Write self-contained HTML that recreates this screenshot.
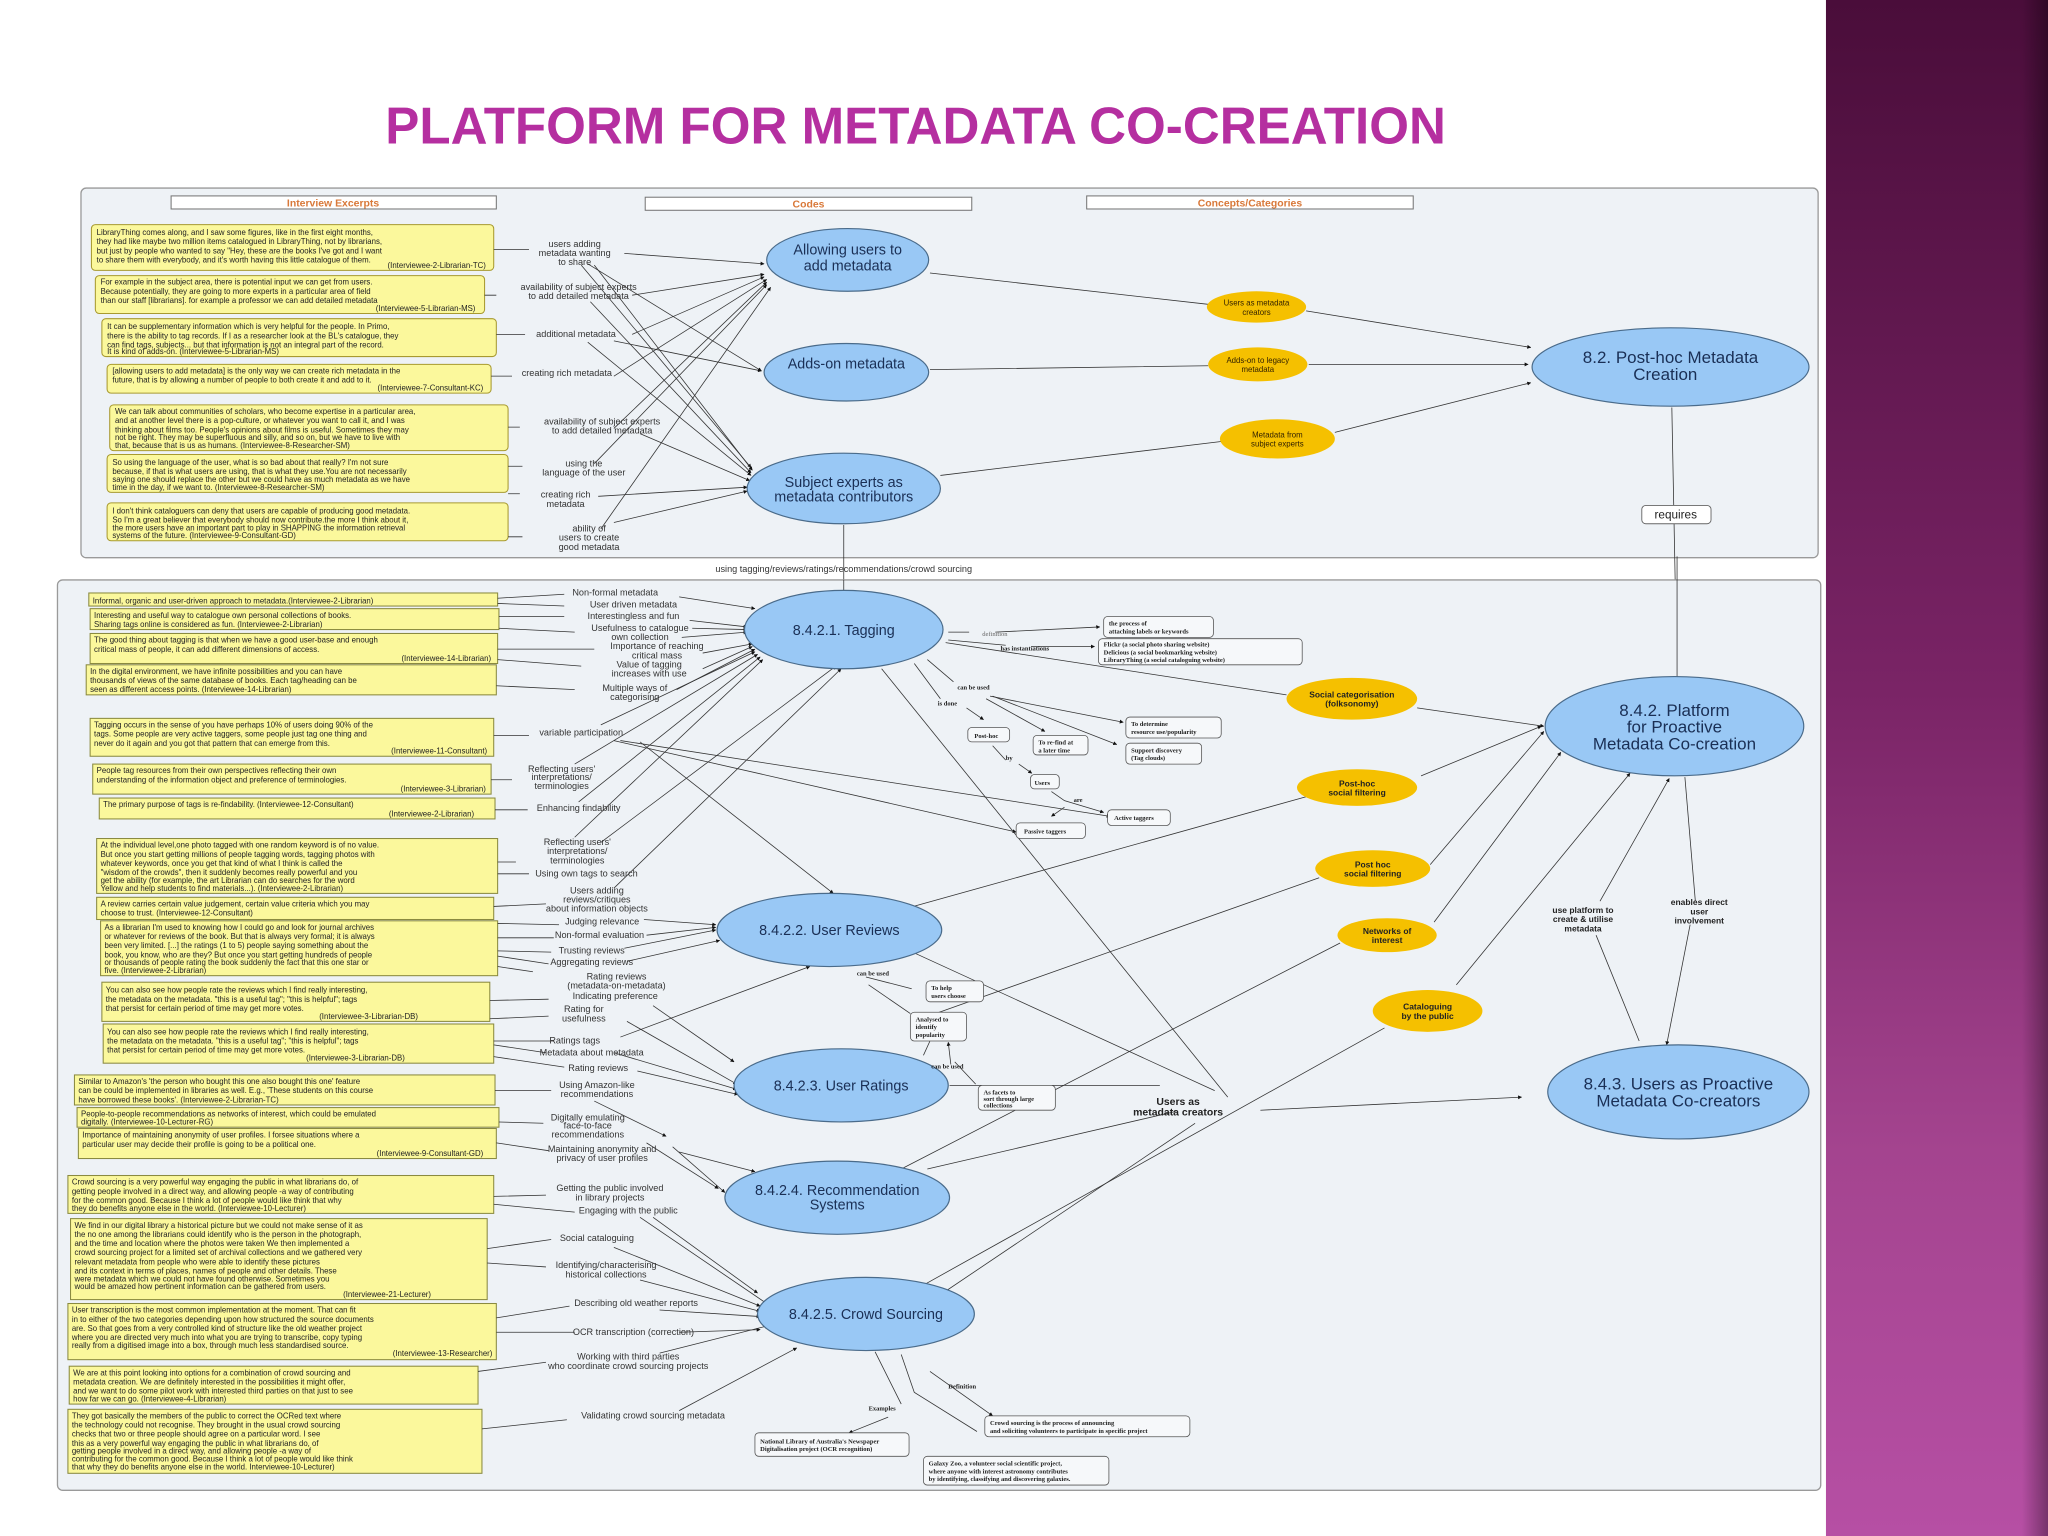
<!DOCTYPE html>
<html><head><meta charset="utf-8"><style>html,body{margin:0;padding:0;background:#fff}svg{display:block}</style></head>
<body>
<svg width="2048" height="1536" viewBox="0 0 1568 1176" xmlns="http://www.w3.org/2000/svg" font-family="Liberation Sans, sans-serif">
<defs>
<linearGradient id="pg" x1="0" y1="0" x2="0" y2="1"><stop offset="0" stop-color="#4a0d3a"/><stop offset="0.45" stop-color="#7a2466"/><stop offset="0.75" stop-color="#a4448f"/><stop offset="1" stop-color="#b64fa4"/></linearGradient>
<linearGradient id="pe" x1="0" y1="0" x2="1" y2="0"><stop offset="0" stop-color="#000" stop-opacity="0"/><stop offset="1" stop-color="#000" stop-opacity="0.35"/></linearGradient>
<marker id="a" viewBox="0 0 10 10" refX="9" refY="5" markerWidth="5" markerHeight="5" orient="auto"><path d="M0,0L10,5L0,10z" fill="#111"/></marker>
</defs>
<rect width="1568" height="1176" fill="#fff"/>
<rect x="1398" y="0" width="170" height="1176" fill="url(#pg)"/>
<rect x="1548" y="0" width="20" height="1176" fill="url(#pe)"/>
<text x="701" y="110" text-anchor="middle" font-size="40" font-weight="bold" fill="#b52fa0" textLength="812" lengthAdjust="spacingAndGlyphs">PLATFORM FOR METADATA CO-CREATION</text>

<!-- top panel -->
<rect x="62" y="144" width="1330" height="283" rx="4" fill="#eef2f6" stroke="#9a9a9a" stroke-width="1"/>
<g fill="#fff" stroke="#777" stroke-width="0.8">
<rect x="131" y="150" width="249" height="10"/><rect x="494" y="151" width="250" height="10"/><rect x="832" y="150" width="250" height="10"/></g>
<g font-size="8" font-weight="bold" fill="#d9793a" text-anchor="middle">
<text x="255" y="158">Interview Excerpts</text><text x="619" y="159">Codes</text><text x="957" y="158">Concepts/Categories</text></g>

<g fill="#fbf89c" stroke="#a89a30" stroke-width="0.8">
<rect x="70" y="172" width="308" height="35" rx="3"/>
<rect x="73" y="211" width="298" height="29" rx="3"/>
<rect x="78" y="244" width="302" height="29" rx="3"/>
<rect x="82" y="279" width="294" height="22" rx="3"/>
<rect x="84" y="310" width="305" height="35" rx="3"/>
<rect x="82" y="348" width="307" height="29" rx="3"/>
<rect x="82" y="385" width="307" height="29" rx="3"/>
</g>
<g font-size="6" fill="#222">
<text x="74" y="180">LibraryThing comes along, and I saw some figures, like in the first eight months,</text>
<text x="74" y="187">they had like maybe two million items catalogued in LibraryThing, not by librarians,</text>
<text x="74" y="194">but just by people who wanted to say "Hey, these are the books I've got and I want</text>
<text x="74" y="201">to share them with everybody, and it's worth having this little catalogue of them.</text>
<text x="372" y="205" text-anchor="end">(Interviewee-2-Librarian-TC)</text>
<text x="77" y="218">For example in the subject area, there is potential input we can get from users.</text>
<text x="77" y="225">Because potentially, they are going to more experts in a particular area of field</text>
<text x="77" y="232">than our staff [librarians]. for example a professor we can add detailed metadata</text>
<text x="364" y="238" text-anchor="end">(Interviewee-5-Librarian-MS)</text>
<text x="82" y="252">It can be supplementary information which is very helpful for the people. In Primo,</text>
<text x="82" y="259">there is the ability to tag records. If I as a researcher look at the BL's catalogue, they</text>
<text x="82" y="266">can find tags, subjects... but that information is not an integral part of the record.</text>
<text x="82" y="271">It is kind of adds-on.        (Interviewee-5-Librarian-MS)</text>
<text x="86" y="286">[allowing users to add metadata] is the only way we can create rich metadata in the</text>
<text x="86" y="293">future, that is by allowing a number of people to both create it and add to it.</text>
<text x="370" y="299" text-anchor="end">(Interviewee-7-Consultant-KC)</text>
<text x="88" y="317">We can talk about communities of scholars, who become expertise in a particular area,</text>
<text x="88" y="324">and at another level there is a pop-culture, or whatever you want to call it, and I was</text>
<text x="88" y="331">thinking about films too. People's opinions about films is useful. Sometimes they may</text>
<text x="88" y="337">not be right. They may be superfluous and silly, and so on, but we have to live with</text>
<text x="88" y="343">that, because that is us as humans.            (Interviewee-8-Researcher-SM)</text>
<text x="86" y="356">So using the language of the user, what is so bad about that really? I'm not sure</text>
<text x="86" y="363">because, if that is what users are using, that is what they use.You are not necessarily</text>
<text x="86" y="369">saying one should replace the other but we could have as much metadata as we have</text>
<text x="86" y="375">time in the day, if we want to.              (Interviewee-8-Researcher-SM)</text>
<text x="86" y="393">I don't think cataloguers can deny that users are capable of producing good metadata.</text>
<text x="86" y="400">So I'm a great believer that everybody should now contribute.the more I think about it,</text>
<text x="86" y="406">the more users have an important part to play in SHAPPING the information retrieval</text>
<text x="86" y="412">systems of the future.            (Interviewee-9-Consultant-GD)</text>
</g>
<g font-size="7" fill="#333" text-anchor="middle">
<text x="440" y="189">users adding</text><text x="440" y="196">metadata wanting</text><text x="440" y="203">to share</text>
<text x="443" y="222">availability of subject experts</text><text x="443" y="229">to add detailed metadata</text>
<text x="441" y="258">additional metadata</text>
<text x="434" y="288">creating rich metadata</text>
<text x="461" y="325">availability of subject experts</text><text x="461" y="332">to add detailed metadata</text>
<text x="447" y="357">using the</text><text x="447" y="364">language of the user</text>
<text x="433" y="381">creating rich</text><text x="433" y="388">metadata</text>
<text x="451" y="407">ability of</text><text x="451" y="414">users to create</text><text x="451" y="421">good metadata</text>
</g>
<g stroke="#333" stroke-width="0.6" fill="none">
<path d="M378,191H405M371,226H380M380,256H402M376,288H392M389,327H398M389,357H400M389,378H398M389,411H400"/>
<path d="M478,194L585,202" marker-end="url(#a)"/>
<path d="M484,226L585,210" marker-end="url(#a)"/>
<path d="M484,256L585,212" marker-end="url(#a)"/>
<path d="M470,288L587,214" marker-end="url(#a)"/>
<path d="M470,328L587,216" marker-end="url(#a)"/>
<path d="M455,355L587,218" marker-end="url(#a)"/>
<path d="M460,405L590,220" marker-end="url(#a)"/>
<path d="M450,202L583,284" marker-end="url(#a)"/>
<path d="M470,261L583,284" marker-end="url(#a)"/>
<path d="M445,203L575,358" marker-end="url(#a)"/>
<path d="M455,203L576,360" marker-end="url(#a)"/>
<path d="M452,231L575,362" marker-end="url(#a)"/>
<path d="M450,262L575,364" marker-end="url(#a)"/>
<path d="M490,332L574,368" marker-end="url(#a)"/>
<path d="M458,380L572,373" marker-end="url(#a)"/>
<path d="M470,400L572,376" marker-end="url(#a)"/>
<path d="M712,209L925,233M1000,238L1172,266" marker-end="url(#a)"/>
<path d="M712,283L925,280M1002,279L1170,279" marker-end="url(#a)"/>
<path d="M720,364L935,338M1022,331L1172,293" marker-end="url(#a)"/>
<path d="M1280,312L1284,520M646,402V456"/>
</g>
<g fill="#99c8f5" stroke="#4a6b8a" stroke-width="0.9">
<ellipse cx="649" cy="199" rx="62" ry="24"/><ellipse cx="648" cy="285" rx="63" ry="22"/><ellipse cx="646" cy="374" rx="74" ry="27"/><ellipse cx="1279" cy="281" rx="106" ry="30"/>
</g>
<g fill="#f5c000"><ellipse cx="962" cy="235" rx="38" ry="12"/><ellipse cx="963" cy="279" rx="38" ry="13"/><ellipse cx="978" cy="336" rx="44" ry="15"/></g>
<g font-size="11" fill="#1a2f55" text-anchor="middle">
<text x="649" y="195">Allowing users to</text><text x="649" y="207">add metadata</text>
<text x="648" y="282">Adds-on metadata</text>
<text x="646" y="373">Subject experts as</text><text x="646" y="384">metadata contributors</text>
<text x="1279" y="278" font-size="13">8.2.    Post-hoc Metadata</text><text x="1275" y="291" font-size="13">Creation</text>
</g>
<g font-size="6" fill="#332200" text-anchor="middle">
<text x="962" y="234">Users as metadata</text><text x="962" y="241">creators</text>
<text x="963" y="278">Adds-on to legacy</text><text x="963" y="285">metadata</text>
<text x="978" y="335">Metadata from</text><text x="978" y="342">subject experts</text>
</g>
<rect x="1257" y="387" width="53" height="14" rx="3" fill="#fff" stroke="#666" stroke-width="0.7"/>
<text x="1283" y="397" font-size="9" fill="#222" text-anchor="middle">requires</text>
<text x="646" y="438" font-size="7" fill="#333" text-anchor="middle">using tagging/reviews/ratings/recommendations/crowd sourcing</text>

<!-- lower panel -->
<rect x="44" y="444" width="1350" height="697" rx="4" fill="#eef2f6" stroke="#9a9a9a" stroke-width="1"/>
<path d="M646,444V456M1284,426V520" stroke="#333" stroke-width="0.6"/>
<g fill="#fbf89c" stroke="#8a8a40" stroke-width="0.8">
<rect x="68" y="454" width="313" height="10"/>
<rect x="69" y="466" width="313" height="16"/>
<rect x="69" y="485" width="312" height="23"/>
<rect x="66" y="509" width="314" height="23"/>
<rect x="69" y="550" width="309" height="29"/>
<rect x="71" y="585" width="305" height="23"/>
<rect x="76" y="611" width="303" height="16"/>
<rect x="74" y="642" width="307" height="42"/>
<rect x="74" y="687" width="304" height="17"/>
<rect x="77" y="705" width="304" height="42"/>
<rect x="78" y="752" width="297" height="30"/>
<rect x="79" y="784" width="299" height="30"/>
<rect x="57" y="823" width="322" height="23"/>
<rect x="59" y="848" width="323" height="15"/>
<rect x="60" y="864" width="320" height="23"/>
<rect x="52" y="900" width="326" height="29"/>
<rect x="54" y="933" width="319" height="62"/>
<rect x="52" y="998" width="328" height="43"/>
<rect x="53" y="1046" width="313" height="29"/>
<rect x="52" y="1079" width="317" height="49"/>
</g>
<g font-size="6" fill="#222">
<text x="71" y="462">Informal, organic and user-driven approach to metadata.(Interviewee-2-Librarian)</text>
<text x="72" y="473">Interesting and useful way to catalogue own personal collections of books.</text>
<text x="72" y="480">Sharing tags online is considered as fun.               (Interviewee-2-Librarian)</text>
<text x="72" y="492">The good thing about tagging is that when we have a good user-base and enough</text>
<text x="72" y="499">critical mass of people, it can add different dimensions of access.</text>
<text x="376" y="506" text-anchor="end">(Interviewee-14-Librarian)</text>
<text x="69" y="516">In the digital environment, we have infinite possibilities and you can have</text>
<text x="69" y="523">thousands of views of the same database of books. Each tag/heading can be</text>
<text x="69" y="530"> seen as different access points. (Interviewee-14-Librarian)</text>
<text x="72" y="557">Tagging occurs in the sense of you have perhaps 10% of users doing 90% of the</text>
<text x="72" y="564">tags. Some people are very active taggers, some people just tag one thing and</text>
<text x="72" y="571">never do it again and you got that pattern that can emerge from this.</text>
<text x="373" y="577" text-anchor="end">(Interviewee-11-Consultant)</text>
<text x="74" y="592">People tag resources from their own perspectives reflecting their own</text>
<text x="74" y="599">understanding of the information object and preference of terminologies.</text>
<text x="372" y="606" text-anchor="end">(Interviewee-3-Librarian)</text>
<text x="79" y="618">The primary purpose of tags is re-findability.   (Interviewee-12-Consultant)</text>
<text x="363" y="625" text-anchor="end">(Interviewee-2-Librarian)</text>
<text x="77" y="649">At the individual level,one photo tagged with one random keyword is of no value.</text>
<text x="77" y="656">But once you start getting millions of people tagging words, tagging photos with</text>
<text x="77" y="663">whatever keywords, once you get that kind of what I think is called the</text>
<text x="77" y="670">"wisdom of the crowds", then it suddenly becomes really powerful and you</text>
<text x="77" y="676">get the ability (for example, the art Librarian can do searches for the word</text>
<text x="77" y="682">Yellow and help students to find materials...).          (Interviewee-2-Librarian)</text>
<text x="77" y="694">A review carries certain value judgement, certain value criteria which you may</text>
<text x="77" y="701">choose to trust.                           (Interviewee-12-Consultant)</text>
<text x="80" y="712">As a librarian I'm used to knowing how I could go and look for journal archives</text>
<text x="80" y="719">or whatever for reviews of the book. But that is always very formal; it is always</text>
<text x="80" y="726">been very limited. [...] the ratings (1 to 5) people saying something about the</text>
<text x="80" y="733">book, you know, who are they? But once you start getting hundreds of people</text>
<text x="80" y="739">or thousands of people rating the book suddenly the fact that this one star or</text>
<text x="80" y="745">five.                                      (Interviewee-2-Librarian)</text>
<text x="81" y="760">You can also see how people rate the reviews which I find really interesting,</text>
<text x="81" y="767">the metadata on the metadata. "this is a useful tag"; "this is helpful"; tags</text>
<text x="81" y="774">that persist for certain period of time may get more votes.</text>
<text x="320" y="780" text-anchor="end">(Interviewee-3-Librarian-DB)</text>
<text x="82" y="792">You can also see how people rate the reviews which I find really interesting,</text>
<text x="82" y="799">the metadata on the metadata. "this is a useful tag"; "this is helpful"; tags</text>
<text x="82" y="806">that persist for certain period of time may get more votes.</text>
<text x="310" y="812" text-anchor="end">(Interviewee-3-Librarian-DB)</text>
<text x="60" y="830">Similar to Amazon's 'the person who bought this one also bought this one' feature</text>
<text x="60" y="837">can be could be implemented in libraries as well. E.g., 'These students on this course</text>
<text x="60" y="844">have borrowed these books'.                   (Interviewee-2-Librarian-TC)</text>
<text x="62" y="855">People-to-people recommendations as networks of interest, which could be emulated</text>
<text x="62" y="861">digitally.                          (Interviewee-10-Lecturer-RG)</text>
<text x="63" y="871">Importance of maintaining anonymity of user profiles. I forsee  situations where a</text>
<text x="63" y="878">particular user may decide their profile is going to be a political one.</text>
<text x="370" y="885" text-anchor="end">(Interviewee-9-Consultant-GD)</text>
<text x="55" y="907">Crowd sourcing is a very powerful way engaging the public in what librarians do, of</text>
<text x="55" y="914">getting people involved in a direct way, and allowing people -a way of contributing</text>
<text x="55" y="921">for the common good.  Because I think a lot of people would like think that why</text>
<text x="55" y="927">they do benefits anyone else in the world.              (Interviewee-10-Lecturer)</text>
<text x="57" y="940">We find in our digital library a historical picture but we could not make sense of it as</text>
<text x="57" y="947">the no one among the librarians could identify who is the person in the photograph,</text>
<text x="57" y="954">and the time and location where the photos were taken We then implemented a</text>
<text x="57" y="961">crowd sourcing project for a limited set of archival collections and we gathered very</text>
<text x="57" y="968">relevant metadata from people who were able to identify these pictures</text>
<text x="57" y="975">and its context in terms of places, names of people and other details. These</text>
<text x="57" y="981">were metadata which we could not have found otherwise.  Sometimes you</text>
<text x="57" y="987">would be amazed how pertinent information can be gathered from users.</text>
<text x="330" y="993" text-anchor="end">(Interviewee-21-Lecturer)</text>
<text x="55" y="1005">User transcription is the most common implementation at the moment. That can fit</text>
<text x="55" y="1012">in to either of the two categories depending upon how structured the source documents</text>
<text x="55" y="1019">are. So that goes from a very controlled kind of structure like the old weather project</text>
<text x="55" y="1026">where you are directed very much into what you are trying to transcribe, copy typing</text>
<text x="55" y="1032">really from a digitised image into a box, through much less standardised source.</text>
<text x="377" y="1038" text-anchor="end">(Interviewee-13-Researcher)</text>
<text x="56" y="1053">We are at this point looking into options for a combination of crowd sourcing and</text>
<text x="56" y="1060">metadata creation. We are definitely interested in the possibilities it might offer,</text>
<text x="56" y="1067">and we want to do some pilot work with interested third parties on that just to see</text>
<text x="56" y="1073"> how far we can go.               (Interviewee-4-Librarian)</text>
<text x="55" y="1086">They got basically the members of the public to correct the OCRed text where</text>
<text x="55" y="1093">the technology could not recognise. They brought in the usual crowd sourcing</text>
<text x="55" y="1100">checks that two or three people should agree on a particular word. I see</text>
<text x="55" y="1107"> this as a very powerful way engaging the public in what librarians do, of</text>
<text x="55" y="1113">getting people involved in a direct way, and allowing people -a way of</text>
<text x="55" y="1119">contributing for the common good.  Because I think a lot of people would like think</text>
<text x="55" y="1125">that why they do benefits anyone else in the world. Interviewee-10-Lecturer)</text>
</g>
<g font-size="7" fill="#333" text-anchor="middle">
<text x="471" y="456">Non-formal metadata</text>
<text x="485" y="465">User driven metadata</text>
<text x="485" y="474">Interestingless and fun</text>
<text x="490" y="483">Usefulness to catalogue</text><text x="490" y="490">own collection</text>
<text x="503" y="497">Importance of reaching</text><text x="503" y="504">critical mass</text>
<text x="497" y="511">Value of tagging</text><text x="497" y="518">increases with use</text>
<text x="486" y="529">Multiple ways of</text><text x="486" y="536">categorising</text>
<text x="445" y="563">variable participation</text>
<text x="430" y="591">Reflecting users'</text><text x="430" y="597">interpretations/</text><text x="430" y="604">terminologies</text>
<text x="443" y="621">Enhancing findability</text>
<text x="442" y="647">Reflecting users'</text><text x="442" y="654">interpretations/</text><text x="442" y="661">terminologies</text>
<text x="449" y="671">Using own tags to search</text>
<text x="457" y="684">Users adding</text><text x="457" y="691">reviews/critiques</text><text x="457" y="698">about information objects</text>
<text x="461" y="708">Judging relevance</text>
<text x="459" y="718">Non-formal evaluation</text>
<text x="453" y="730">Trusting reviews</text>
<text x="453" y="739">Aggregating reviews</text>
<text x="472" y="750">Rating reviews</text><text x="472" y="757">(metadata-on-metadata)</text>
<text x="471" y="765">Indicating preference</text>
<text x="447" y="775">Rating for</text><text x="447" y="782">usefulness</text>
<text x="440" y="799">Ratings tags</text>
<text x="453" y="808">Metadata about metadata</text>
<text x="458" y="820">Rating reviews</text>
<text x="457" y="833">Using Amazon-like</text><text x="457" y="840">recommendations</text>
<text x="450" y="858">Digitally emulating</text><text x="450" y="864">face-to-face</text><text x="450" y="871">recommendations</text>
<text x="461" y="882">Maintaining anonymity and</text><text x="461" y="889">privacy of user profiles</text>
<text x="467" y="912">Getting the public involved</text><text x="467" y="919">in library projects</text>
<text x="481" y="929">Engaging with the public</text>
<text x="457" y="950">Social cataloguing</text>
<text x="464" y="971">Identifying/characterising</text><text x="464" y="978">historical collections</text>
<text x="487" y="1000">Describing old weather reports</text>
<text x="485" y="1022">OCR transcription (correction)</text>
<text x="481" y="1041">Working with third parties</text><text x="481" y="1048">who coordinate crowd sourcing projects</text>
<text x="500" y="1086">Validating crowd sourcing metadata</text>
</g>
<g stroke="#333" stroke-width="0.6" fill="none">
<path d="M381,458L432,455M381,462L432,464M382,472L432,472M382,481L440,484M381,497L455,497M381,505L445,510M380,525L440,528M378,563L405,563M376,597L392,597M379,620L404,620M381,660L395,660M381,669L405,669M378,694L418,692M381,707L428,708M381,718L424,718M381,728L422,729M381,732L420,738M381,740L408,744M375,766L420,765M375,780L420,778M378,797L424,797M378,800L418,806M378,809L432,817M379,835L422,835M382,859L416,860M380,875L420,881M378,916L418,915M378,922L440,928M373,956L422,949M373,967L418,970M380,1009L436,1000M380,1020L440,1020M366,1050L418,1043M369,1094L434,1087"/>
<path d="M520,457L578,466" marker-end="url(#a)"/>
<path d="M528,475L572,480" marker-end="url(#a)"/>
<path d="M530,481L572,482" marker-end="url(#a)"/>
<path d="M522,488L572,484" marker-end="url(#a)"/>
<path d="M538,500L576,493" marker-end="url(#a)"/>
<path d="M538,512L576,495" marker-end="url(#a)"/>
<path d="M518,528L578,497" marker-end="url(#a)"/>
<path d="M460,555L578,499" marker-end="url(#a)"/>
<path d="M440,585L580,501" marker-end="url(#a)"/>
<path d="M443,614L582,503" marker-end="url(#a)"/>
<path d="M440,641L584,505" marker-end="url(#a)"/>
<path d="M460,645L640,510" marker-end="url(#a)"/>
<path d="M470,680L644,512" marker-end="url(#a)"/>
<path d="M490,568L638,684" marker-end="url(#a)"/>
<path d="M475,567L850,625" marker-end="url(#a)"/>
<path d="M470,567L778,637" marker-end="url(#a)"/>
<path d="M493,704L548,708" marker-end="url(#a)"/>
<path d="M495,716L548,710" marker-end="url(#a)"/>
<path d="M478,726L548,712" marker-end="url(#a)"/>
<path d="M480,736L551,720" marker-end="url(#a)"/>
<path d="M475,794L620,740" marker-end="url(#a)"/>
<path d="M500,770L562,813" marker-end="url(#a)"/>
<path d="M480,782L564,830" marker-end="url(#a)"/>
<path d="M470,806L564,834" marker-end="url(#a)"/>
<path d="M488,820L565,838" marker-end="url(#a)"/>
<path d="M455,843L510,870" marker-end="url(#a)"/>
<path d="M520,882L578,897" marker-end="url(#a)"/>
<path d="M515,878L555,913" marker-end="url(#a)"/>
<path d="M495,875L550,910" marker-end="url(#a)"/>
<path d="M490,932L587,998" marker-end="url(#a)"/>
<path d="M500,932L580,990" marker-end="url(#a)"/>
<path d="M470,955L582,1000" marker-end="url(#a)"/>
<path d="M490,980L582,1004" marker-end="url(#a)"/>
<path d="M505,1003L582,1008" marker-end="url(#a)"/>
<path d="M520,1020L582,1018" marker-end="url(#a)"/>
<path d="M505,1036L588,1015" marker-end="url(#a)"/>
<path d="M520,1080L610,1032" marker-end="url(#a)"/>
<path d="M726,484H742M762,484L842,480" marker-end="url(#a)"/>
<path d="M726,490L770,494M790,495L838,495" marker-end="url(#a)"/>
<path d="M724,492L985,532M1085,542L1182,556" marker-end="url(#a)"/>
<path d="M710,505L730,522M700,508L720,535M740,542L753,551" marker-end="url(#a)"/>
<path d="M755,535L800,560" marker-end="url(#a)"/>
<path d="M758,533L860,553" marker-end="url(#a)"/>
<path d="M760,533L855,570" marker-end="url(#a)"/>
<path d="M760,571L770,582M780,585L790,592" marker-end="url(#a)"/>
<path d="M805,606L815,613L845,622" marker-end="url(#a)"/>
<path d="M815,618L805,625" marker-end="url(#a)"/>
<path d="M675,512L940,840"/>
<path d="M685,698L1000,610M1088,594L1180,556" marker-end="url(#a)"/>
<path d="M705,780L1010,672M1095,662L1182,560" marker-end="url(#a)"/>
<path d="M690,895L1026,722M1098,706L1195,576" marker-end="url(#a)"/>
<path d="M705,985L1060,787M1115,754L1248,592" marker-end="url(#a)"/>
<path d="M690,725L930,835"/>
<path d="M727,831H888M965,850L1165,840" marker-end="url(#a)"/>
<path d="M710,895L900,851M707,1000L915,860"/>
<path d="M1290,595L1298,690M1294,708L1276,800" marker-end="url(#a)"/>
<path d="M1255,797L1222,716M1225,690L1278,596" marker-end="url(#a)"/>
<path d="M663,748L698,757M665,754L697,776M712,797L707,808M731,813L747,830M728,815L726,798" marker-end="url(#a)"/>
<path d="M670,1035L690,1075M690,1037L700,1066L748,1096M712,1050L760,1084" marker-end="url(#a)"/>
<path d="M680,1085L650,1097" marker-end="url(#a)"/>
</g>
<g fill="#99c8f5" stroke="#4a6b8a" stroke-width="0.9">
<ellipse cx="646" cy="482" rx="76" ry="30"/><ellipse cx="635" cy="712" rx="86" ry="28"/><ellipse cx="644" cy="831" rx="82" ry="28"/><ellipse cx="641" cy="917" rx="86" ry="28"/><ellipse cx="663" cy="1006" rx="83" ry="28"/>
<ellipse cx="1282" cy="556" rx="99" ry="38"/><ellipse cx="1285" cy="836" rx="100" ry="36"/>
</g>
<g fill="#f5c000"><ellipse cx="1035" cy="535" rx="50" ry="16"/><ellipse cx="1039" cy="603" rx="46" ry="14"/><ellipse cx="1051" cy="665" rx="44" ry="14"/><ellipse cx="1062" cy="716" rx="38" ry="13"/><ellipse cx="1093" cy="774" rx="42" ry="16"/></g>
<g font-size="11" fill="#1a2f55" text-anchor="middle">
<text x="646" y="486">8.4.2.1. Tagging</text>
<text x="635" y="716">8.4.2.2. User Reviews</text>
<text x="644" y="835">8.4.2.3. User Ratings</text>
<text x="641" y="915">8.4.2.4. Recommendation</text><text x="641" y="926">Systems</text>
<text x="663" y="1010">8.4.2.5.  Crowd Sourcing</text>
<text x="1282" y="548" font-size="13">8.4.2. Platform</text><text x="1282" y="561" font-size="13">for Proactive</text><text x="1282" y="574" font-size="13">Metadata Co-creation</text>
<text x="1285" y="834" font-size="13">8.4.3. Users as Proactive</text><text x="1285" y="847" font-size="13">Metadata Co-creators</text>
</g>
<g font-size="6.5" font-weight="bold" fill="#222" text-anchor="middle">
<text x="1035" y="534">Social categorisation</text><text x="1035" y="541">(folksonomy)</text>
<text x="1039" y="602">Post-hoc</text><text x="1039" y="609">social filtering</text>
<text x="1051" y="664">Post hoc</text><text x="1051" y="671">social filtering</text>
<text x="1062" y="715">Networks of</text><text x="1062" y="722">interest</text>
<text x="1093" y="773">Cataloguing</text><text x="1093" y="780">by the public</text>
<text x="1212" y="699">use platform to</text><text x="1212" y="706">create &amp; utilise</text><text x="1212" y="713">metadata</text>
<text x="1301" y="693">enables direct</text><text x="1301" y="700">user</text><text x="1301" y="707">involvement</text>
<text x="902" y="846" font-size="8">Users as</text><text x="902" y="854" font-size="8">metadata creators</text>
</g>
<g fill="#f6f8fa" stroke="#555" stroke-width="0.6">
<rect x="845" y="472" width="84" height="16" rx="3"/><rect x="841" y="489" width="156" height="20" rx="3"/>
<rect x="862" y="549" width="73" height="16" rx="3"/><rect x="862" y="569" width="58" height="16" rx="3"/>
<rect x="741" y="557" width="32" height="11" rx="3"/><rect x="791" y="563" width="42" height="15" rx="3"/>
<rect x="789" y="593" width="22" height="11" rx="3"/><rect x="848" y="620" width="48" height="12" rx="3"/><rect x="778" y="630" width="53" height="12" rx="3"/>
<rect x="709" y="751" width="44" height="16" rx="3"/><rect x="697" y="775" width="43" height="22" rx="3"/><rect x="749" y="831" width="59" height="19" rx="3"/>
<rect x="578" y="1097" width="118" height="18" rx="3"/><rect x="754" y="1084" width="157" height="16" rx="3"/><rect x="707" y="1115" width="142" height="22" rx="3"/>
</g>
<g font-family="Liberation Serif, serif" font-size="5" font-weight="bold" fill="#222">
<text x="849" y="479">the process of</text><text x="849" y="485">attaching labels or keywords</text>
<text x="845" y="495">Flickr (a social photo sharing website)</text><text x="845" y="501">Delicious (a social bookmarking website)</text><text x="845" y="507">LibraryThing (a social cataloguing website)</text>
<text x="866" y="556">To determine</text><text x="866" y="562">resource use/popularity</text>
<text x="866" y="576">Support discovery</text><text x="866" y="582">(Tag clouds)</text>
<text x="746" y="565">Post-hoc</text><text x="795" y="570">To re-find at</text><text x="795" y="576">a later time</text>
<text x="792" y="601">Users</text><text x="853" y="628">Active taggers</text><text x="784" y="638">Passive taggers</text>
<text x="713" y="758">To help</text><text x="713" y="764">users choose</text>
<text x="701" y="782">Analysed to</text><text x="701" y="788">identify</text><text x="701" y="794">popularity</text>
<text x="753" y="838">As facets to</text><text x="753" y="843">sort through large</text><text x="753" y="848">collections</text>
<text x="582" y="1105">National Library of Australia's Newspaper</text><text x="582" y="1111">Digitalisation project (OCR recognition)</text>
<text x="758" y="1091">Crowd sourcing is the process of announcing</text><text x="758" y="1097">and soliciting volunteers to participate in specific project</text>
<text x="711" y="1122">Galaxy Zoo, a volunteer social scientific project,</text><text x="711" y="1128">where anyone with interest astronomy contributes</text><text x="711" y="1134">by identifying, classifying and discovering galaxies.</text>
<text x="752" y="487" font-weight="normal" fill="#666">definition</text><text x="766" y="498">has instantiations</text>
<text x="733" y="528">can be used</text><text x="718" y="540">is done</text><text x="770" y="582">by</text><text x="822" y="614">are</text>
<text x="656" y="747">can be used</text><text x="713" y="818">can be used</text>
<text x="665" y="1080">Examples</text><text x="726" y="1063">Definition</text>
</g>
</svg>
</body></html>
